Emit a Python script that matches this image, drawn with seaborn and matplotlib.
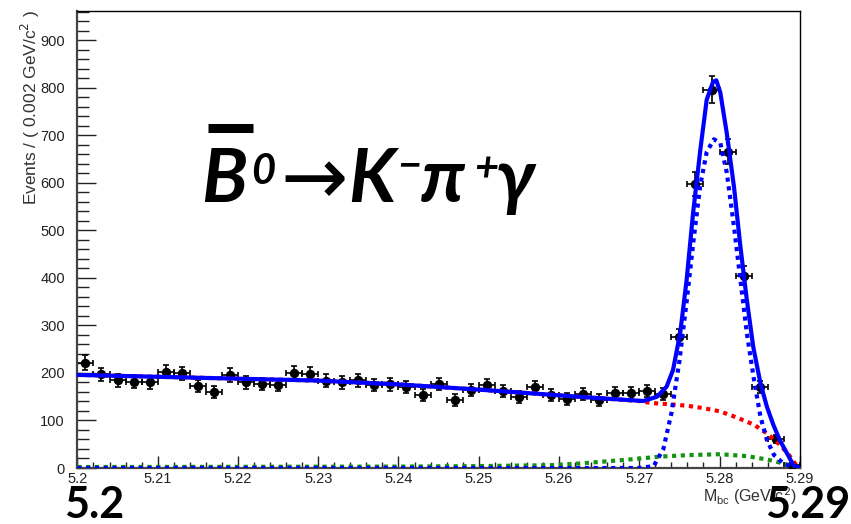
import numpy as np
import pandas as pd
import matplotlib
matplotlib.use("Agg")
import matplotlib.pyplot as plt
from matplotlib.lines import Line2D
from matplotlib import font_manager as fm
import seaborn as sns

# ---------------- data ----------------
bin_centers = [5.201 + 0.002 * i for i in range(45)]
counts = [222, 197, 185, 182, 180, 203, 199, 173, 159, 196,
          180, 177, 175, 201, 198, 184, 180, 185, 175, 176,
          171, 154, 177, 143, 164, 175, 162, 150, 170, 154,
          145, 155, 143, 157, 157, 162, 155, 276, 598, 796,
          666, 405, 171, 61, 6]

total_x = [5.200, 5.210, 5.220, 5.230, 5.240, 5.250, 5.260, 5.265, 5.2705,
           5.2722, 5.2734, 5.2742, 5.2751, 5.2759, 5.2767, 5.2776, 5.2784,
           5.2792, 5.2796, 5.2801, 5.2809, 5.2818, 5.2826, 5.2834, 5.2842,
           5.2851, 5.2859, 5.2867, 5.2875, 5.2884, 5.2892, 5.2900]
total_y = [196, 192, 188, 184, 176, 165, 153, 147, 141,
           150, 171, 206, 284, 396, 536, 669, 775,
           813, 816, 790, 705, 592, 466, 354, 255,
           178, 129, 91, 59, 31, 6, 0]

sig_x = [5.200, 5.2700, 5.2718, 5.2730, 5.2740, 5.2750, 5.2759, 5.2768, 5.2776,
         5.2784, 5.2793, 5.2801, 5.2809, 5.2818, 5.2826, 5.2834, 5.2843,
         5.2851, 5.2859, 5.2868, 5.2880, 5.2892, 5.2900]
sig_y = [0, 0, 4, 40, 115, 225, 350, 485, 595,
         665, 692, 684, 622, 508, 396, 284, 185,
         108, 59, 27, 9, 2, 0]

bkg_x = [5.200, 5.210, 5.220, 5.230, 5.240, 5.250, 5.260, 5.270, 5.2714,
         5.2739, 5.2760, 5.2780, 5.2801, 5.2822, 5.2843, 5.2859, 5.2876,
         5.2888, 5.2896, 5.2900]
bkg_y = [196, 192, 188, 184, 176, 165, 153, 141, 137,
         134, 131, 126, 119, 106, 91, 73, 48,
         24, 5, 0]

peak_x = [5.200, 5.240, 5.250, 5.259, 5.263, 5.2681, 5.2701, 5.2726, 5.2759,
          5.2801, 5.2834, 5.2859, 5.2876, 5.2892, 5.2900]
peak_y = [2, 3, 4, 6, 10, 17, 20, 24, 27, 29, 25, 18, 11, 3, 0]

x_ticks = [5.20, 5.21, 5.22, 5.23, 5.24, 5.25, 5.26, 5.27, 5.28, 5.29]
x_tick_labels = ["5.2", "5.21", "5.22", "5.23", "5.24", "5.25", "5.26", "5.27", "5.28", "5.29"]
y_ticks = [0, 100, 200, 300, 400, 500, 600, 700, 800, 900]
y_tick_labels = ["0", "100", "200", "300", "400", "500", "600", "700", "800", "900"]

# ---------------- style ----------------
sns.set_style("ticks")
plt.rcParams['font.family'] = ['Liberation Sans', 'DejaVu Sans']


def pick_italic_bold(cands):
    for fam in cands:
        try:
            path = fm.findfont(fm.FontProperties(family=fam, style='italic', weight='bold'),
                               fallback_to_default=False)
        except Exception:
            continue
        name = path.lower()
        if ('italic' in name or 'oblique' in name) and fam.replace(' ', '').lower() in name.replace(' ', '').replace('-', '').replace('_', ''):
            return fam
    return 'DejaVu Sans'


IT_FAM = pick_italic_bold(['Lato', 'Open Sans', 'Noto Sans', 'Roboto', 'Inter', 'DejaVu Sans'])

W, H = 851, 524
fig = plt.figure(figsize=(W / 100, H / 100), dpi=100)
ax = fig.add_axes([77.4 / W, 1 - 468 / H, (799.8 - 77.4) / W, (468 - 11) / H])

df_data = pd.DataFrame({"m": bin_centers, "n": counts})
err = np.sqrt(df_data["n"].to_numpy())

ax.errorbar(df_data["m"], df_data["n"], yerr=err, xerr=0.001, fmt='none',
            ecolor='black', elinewidth=1.2, capsize=2.5, capthick=1.2, zorder=2)
sns.scatterplot(data=df_data, x="m", y="n", ax=ax, color='black', s=46,
                edgecolor='black', linewidth=0, zorder=3)

df_bkg = pd.DataFrame({"m": bkg_x, "v": bkg_y})
df_pk = pd.DataFrame({"m": peak_x, "v": peak_y})
df_sig = pd.DataFrame({"m": sig_x, "v": sig_y})
df_tot = pd.DataFrame({"m": total_x, "v": total_y})

sns.lineplot(data=df_bkg, x="m", y="v", ax=ax, color='#ff0000', lw=3,
             zorder=4, sort=False).lines[-1].set_dashes([1, 1.1])
sns.lineplot(data=df_pk, x="m", y="v", ax=ax, color='#129412', lw=3,
             zorder=4, sort=False).lines[-1].set_dashes([1, 1.1])
sns.lineplot(data=df_sig, x="m", y="v", ax=ax, color='#0000ff', lw=3,
             zorder=5, sort=False).lines[-1].set_dashes([1, 1.1])
sns.lineplot(data=df_tot, x="m", y="v", ax=ax, color='#0000ff', lw=3,
             zorder=6, sort=False)

ax.set_xlim(5.2, 5.29)
ax.set_ylim(0, 962)
ax.set_xlabel("")
ax.set_ylabel("")

ax.set_xticks(x_ticks)
ax.set_xticklabels(x_tick_labels)
ax.set_xticks([5.2 + 0.002 * i for i in range(46)], minor=True)
ax.set_yticks(y_ticks)
ax.set_yticklabels(y_tick_labels)
ax.set_yticks(list(range(0, 962, 20)), minor=True)

ax.tick_params(axis='x', which='major', direction='in', length=9, width=1,
               labelsize=10.5, pad=3, colors='#222222')
ax.tick_params(axis='x', which='minor', direction='in', length=4, width=1, colors='#222222')
ax.tick_params(axis='y', which='major', direction='in', length=14, width=1,
               labelsize=10.5, pad=9, colors='#222222')
ax.tick_params(axis='y', which='minor', direction='in', length=8.5, width=1, colors='#222222')
for s in ax.spines.values():
    s.set_linewidth(1.0)
    s.set_color('black')
ax.spines['left'].set_linewidth(1.6)
ax.spines['left'].set_color('#444444')
ax.spines['bottom'].set_linewidth(1.6)
ax.spines['bottom'].set_color('#444444')

fig.text(30 / W, 1 - 10 / H, r"Events / ( 0.002 GeV/c$^{2}$ )", rotation=90,
         ha='center', va='top', fontsize=12.5, color='#333333')
fig.text(797 / W, 1 - 496 / H, r"M$_{\mathregular{bc}}$ (GeV/c$^{2}$)",
         ha='right', va='center', fontsize=11.5, color='#333333')

# ---- decay formula, composed piece by piece ----
BI = dict(family=[IT_FAM, 'DejaVu Sans'], fontweight='bold', fontstyle='italic',
          color='black', ha='left', va='baseline')


def ptext(x, y, s, size, **kw):
    opts = dict(BI)
    opts.update(kw)
    fig.text(x / W, 1 - y / H, s, fontsize=size, **opts)


ptext(201, 202, "B", 54)
fig.add_artist(Line2D([208 / W, 253 / W], [1 - 127.5 / H, 1 - 127.5 / H],
                      color='black', lw=6.5, solid_capstyle='butt'))
ptext(251, 184, "0", 30)
ptext(280, 204, "\u2192", 58, family=['DejaVu Sans'], fontweight='normal', fontstyle='normal')
ptext(348, 202, "K", 53)
ptext(397, 178, "\u2212", 30)
ptext(421, 202, "\u03c0", 54)
ptext(474, 181, "+", 30)
ptext(496, 202, "\u03b3", 54)

fig.text(64 / W, 1 - 518 / H, "5.2", ha='left', va='baseline', fontsize=31,
         fontweight='bold', family=['Lato', 'DejaVu Sans'], color='black')
fig.text(850 / W, 1 - 518 / H, "5.29", ha='right', va='baseline', fontsize=31,
         fontweight='bold', family=['Lato', 'DejaVu Sans'], color='black')

fig.savefig("out.png", dpi=100)
